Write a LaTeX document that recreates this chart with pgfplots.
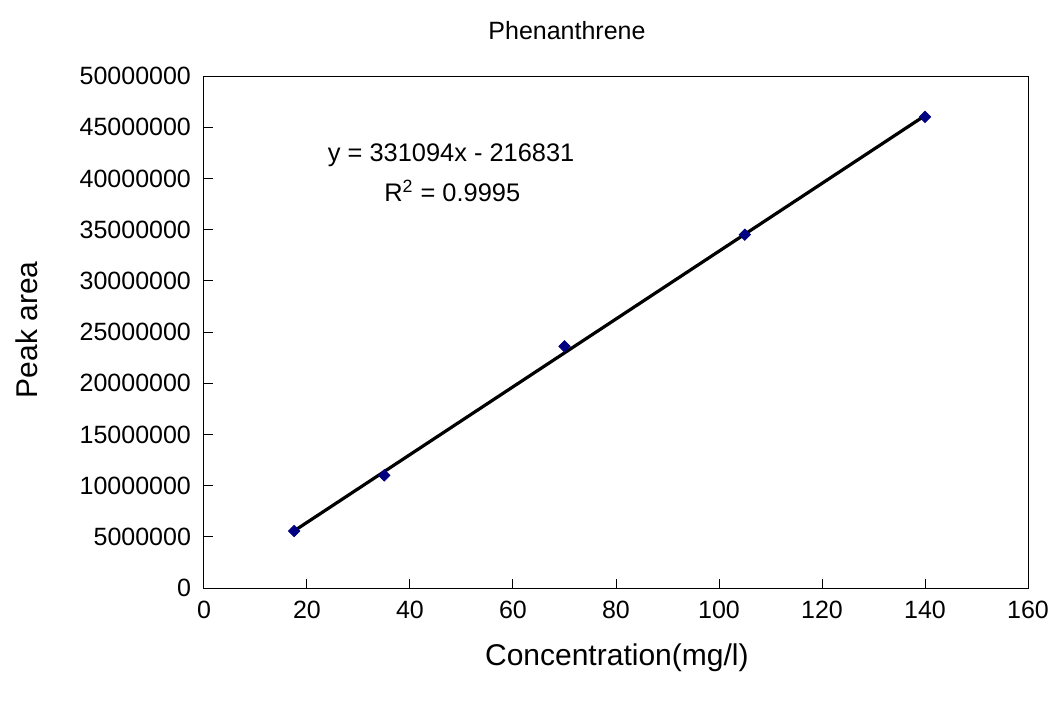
\documentclass[border=0pt]{standalone}
\usepackage{fontspec}
\setmainfont{Liberation Sans}
\usepackage{pgfplots}
\pgfplotsset{compat=1.18}
\definecolor{navy}{HTML}{000080}

\begin{document}
\begin{tikzpicture}
\begin{axis}[
  at={(0,0)}, anchor=south west,
  scale only axis, width=412pt, height=256pt,
  xmin=0, xmax=160, ymin=0, ymax=50000000,
  xtick={0,20,...,160},
  ytick={0,5000000,...,50000000},
  xtick pos=bottom, ytick pos=left,
  scaled y ticks=false,
  tick align=inside, major tick length=4.5pt,
  axis line style={line width=0.5pt},
  tick style={line width=0.5pt, black},
  /pgf/number format/assume math mode=true,
  yticklabel style={/pgf/number format/fixed, /pgf/number format/1000 sep={}, xshift=-3pt},
  xticklabel style={yshift=-3pt},
  ticklabel style={font=\fontsize{12.5}{15}\selectfont},
  xlabel={Concentration(mg/l)},
  ylabel={Peak area},
  label style={font=\fontsize{15}{18}\selectfont},
  xlabel style={at={(axis description cs:0.501,-0.1367)}, anchor=center},
  ylabel style={at={(axis description cs:-0.2148,0.504)}, anchor=center},
  title={Phenanthrene},
  title style={at={(axis description cs:0.4405,1.066)}, anchor=center,
    font=\fontsize{12.5}{15}\selectfont},
  clip=false,
]
% measured points
\addplot[only marks, mark=square*, mark size=2pt,
  mark options={rotate=45, fill=navy, draw=navy}]
  coordinates {(17.5,5560000) (35,11000000) (70,23600000) (105,34500000) (140,46000000)};
% linear trendline end points
\addplot[black, line width=1.6pt] coordinates {(17.5,5577314) (140,46136329)};
\node[font=\fontsize{12.7}{15}\selectfont] at (axis cs:48,42300000) {y = 331094x - 216831};
\node[font=\fontsize{12.7}{15}\selectfont] at (axis cs:48.2,38800000) {R\textsuperscript{2} = 0.9995};
\end{axis}
\pgfresetboundingbox
\path (-102pt,-59.5pt) rectangle (428.5pt,294pt);
\end{tikzpicture}
\end{document}
